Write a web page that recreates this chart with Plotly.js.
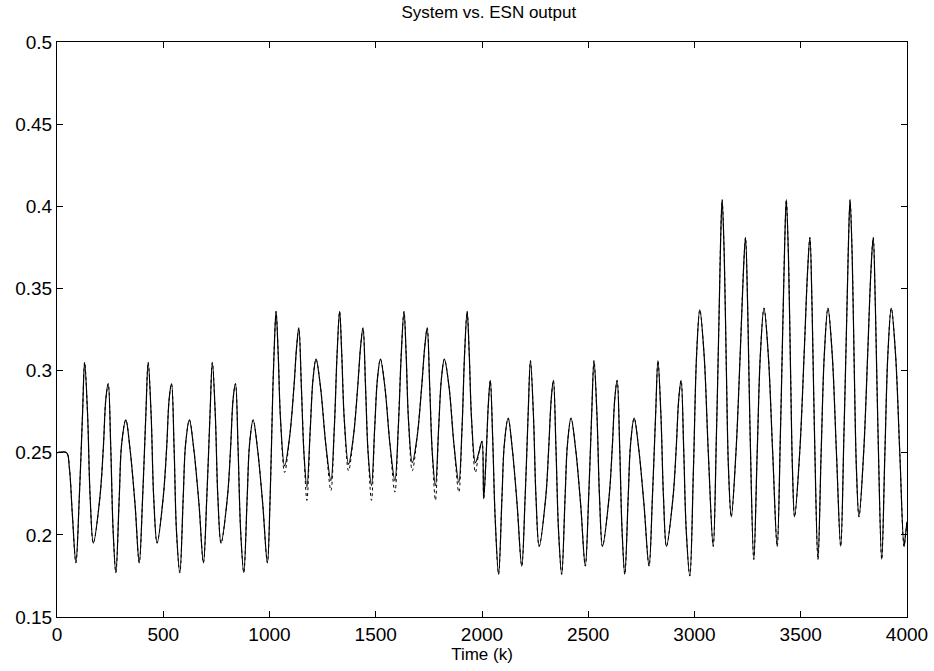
<!DOCTYPE html>
<html>
<head>
<meta charset="utf-8">
<script src="https://cdn.plot.ly/plotly-3.0.1.min.js"></script>
<style>
  html, body { margin: 0; padding: 0; background: #ffffff; }
  #chart { width: 934px; height: 671px; }
</style>
</head>
<body>
<div id="chart"></div>
<script>
// Time steps (k) of the key points
const timeK = [
  0, 45, 58, 72, 89, 105, 120, 130, 144, 156, 171, 202, 218, 230, 241, 253, 264, 277, 293, 304, 324, 343, 367, 387,
  403, 418, 429, 443, 455, 471, 500, 516, 528, 539, 551, 562, 578, 594, 605, 623, 643, 668, 689,
  705, 720, 731, 745, 757, 772, 802, 817, 829, 840, 852, 864, 879, 895, 906, 923, 943, 968, 990,
  1003, 1016, 1024, 1031, 1041, 1052, 1071, 1095, 1115, 1128, 1138, 1150, 1162, 1176, 1192, 1205, 1219, 1240, 1265, 1289,
  1305, 1318, 1330, 1340, 1352, 1372, 1395, 1415, 1429, 1440, 1452, 1464, 1480, 1495, 1508, 1522, 1543, 1567, 1590,
  1606, 1620, 1633, 1643, 1654, 1672, 1695, 1716, 1731, 1742, 1754, 1766, 1781, 1796, 1809, 1823, 1845, 1868, 1891,
  1906, 1918, 1930, 1940, 1951, 1969, 1985, 2000, 2008, 2020, 2030, 2039, 2050, 2062, 2078,
  2094, 2105, 2123, 2142, 2165, 2187, 2203, 2217, 2228, 2242, 2254, 2269, 2300, 2314, 2326, 2336, 2348, 2360, 2375,
  2391, 2402, 2419, 2440, 2464, 2486, 2502, 2516, 2527, 2541, 2553, 2567, 2598, 2613, 2625, 2636, 2648, 2659, 2672,
  2688, 2699, 2716, 2737, 2762, 2786, 2802, 2817, 2828, 2842, 2854, 2868, 2899, 2914, 2926, 2937, 2949, 2961, 2978,
  2995, 3010, 3025, 3045, 3065, 3088, 3103, 3115, 3123, 3130, 3140, 3150, 3160, 3173, 3195, 3215, 3230, 3240, 3250, 3262, 3279,
  3295, 3310, 3327, 3347, 3368, 3389, 3404, 3416, 3425, 3432, 3442, 3452, 3461, 3471, 3495, 3516, 3532, 3543, 3553, 3565, 3581,
  3596, 3611, 3628, 3648, 3668, 3688, 3703, 3716, 3725, 3732, 3742, 3752, 3762, 3774, 3796, 3815, 3830, 3841, 3851, 3864, 3881,
  3896, 3910, 3926, 3946, 3966, 3986, 3993, 4000
];

// System output (solid line)
const systemOut = [
  0.250, 0.250, 0.241, 0.213, 0.183, 0.223, 0.273, 0.305, 0.273, 0.223, 0.195, 0.223, 0.253, 0.283, 0.292, 0.253, 0.203, 0.177, 0.223, 0.255, 0.270, 0.253, 0.219, 0.183,
  0.223, 0.273, 0.305, 0.273, 0.223, 0.195, 0.223, 0.253, 0.283, 0.292, 0.253, 0.203, 0.177, 0.223, 0.255, 0.270, 0.253, 0.219, 0.183,
  0.223, 0.273, 0.305, 0.273, 0.223, 0.195, 0.223, 0.253, 0.283, 0.292, 0.253, 0.203, 0.177, 0.223, 0.255, 0.270, 0.253, 0.219, 0.183,
  0.223, 0.290, 0.320, 0.336, 0.310, 0.270, 0.242, 0.260, 0.290, 0.315, 0.326, 0.290, 0.250, 0.229, 0.265, 0.295, 0.307, 0.290, 0.255, 0.233,
  0.265, 0.310, 0.336, 0.310, 0.270, 0.243, 0.260, 0.290, 0.315, 0.326, 0.290, 0.250, 0.230, 0.265, 0.295, 0.307, 0.290, 0.255, 0.233,
  0.265, 0.310, 0.336, 0.310, 0.270, 0.244, 0.260, 0.290, 0.315, 0.326, 0.290, 0.250, 0.230, 0.265, 0.295, 0.307, 0.290, 0.255, 0.232,
  0.265, 0.310, 0.336, 0.310, 0.270, 0.244, 0.250, 0.257, 0.222, 0.250, 0.280, 0.294, 0.260, 0.210, 0.176,
  0.223, 0.255, 0.271, 0.253, 0.219, 0.181, 0.223, 0.273, 0.306, 0.273, 0.223, 0.193, 0.223, 0.253, 0.283, 0.294, 0.253, 0.203, 0.176,
  0.223, 0.255, 0.271, 0.253, 0.219, 0.181, 0.223, 0.273, 0.306, 0.273, 0.223, 0.193, 0.223, 0.253, 0.283, 0.294, 0.253, 0.203, 0.176,
  0.223, 0.255, 0.271, 0.253, 0.219, 0.181, 0.223, 0.273, 0.306, 0.273, 0.223, 0.193, 0.223, 0.253, 0.283, 0.294, 0.253, 0.203, 0.175,
  0.240, 0.310, 0.337, 0.310, 0.250, 0.193, 0.260, 0.330, 0.380, 0.404, 0.370, 0.300, 0.240, 0.211, 0.250, 0.310, 0.360, 0.381, 0.340, 0.260, 0.185,
  0.250, 0.310, 0.338, 0.310, 0.250, 0.193, 0.260, 0.330, 0.380, 0.404, 0.370, 0.300, 0.240, 0.211, 0.250, 0.310, 0.360, 0.381, 0.340, 0.260, 0.185,
  0.250, 0.310, 0.338, 0.310, 0.250, 0.193, 0.260, 0.330, 0.380, 0.404, 0.370, 0.300, 0.240, 0.211, 0.250, 0.310, 0.360, 0.381, 0.340, 0.260, 0.185,
  0.250, 0.310, 0.338, 0.310, 0.250, 0.193, 0.200, 0.208
];

// ESN output (dashed line): same as the system except at these troughs, where it dips lower
const esnTroughK = [1071, 1176, 1289, 1372, 1480, 1590, 1672, 1781, 1891, 1969];
const esnTroughVal = [0.238, 0.221, 0.227, 0.239, 0.221, 0.226, 0.239, 0.221, 0.226, 0.238];

const esnOut = systemOut.map(function (v, i) {
  const j = esnTroughK.indexOf(timeK[i]);
  return j >= 0 ? esnTroughVal[j] : v;
});

const xTicks = [0, 500, 1000, 1500, 2000, 2500, 3000, 3500, 4000];
const yTicks = [0.15, 0.2, 0.25, 0.3, 0.35, 0.4, 0.45, 0.5];

const traces = [
  {
    x: timeK, y: esnOut, name: 'ESN output', type: 'scatter', mode: 'lines',
    line: { color: '#000000', width: 1, dash: 'dot', shape: 'spline', smoothing: 1 }
  },
  {
    x: timeK, y: systemOut, name: 'System', type: 'scatter', mode: 'lines',
    line: { color: '#000000', width: 1.2, shape: 'spline', smoothing: 1 }
  }
];

const axisFont = { family: 'Liberation Sans, Arial, sans-serif', size: 19, color: '#000000' };

const layout = {
  width: 934, height: 671,
  paper_bgcolor: '#ffffff', plot_bgcolor: '#ffffff',
  showlegend: false,
  margin: { l: 57, r: 27, t: 42, b: 54, pad: 0 },
  title: {
    text: 'System vs. ESN output',
    font: { family: 'Liberation Sans Narrow, Liberation Sans, Arial, sans-serif', size: 17, color: '#000000' },
    x: 0.508, xanchor: 'center', xref: 'paper',
    y: 0.982, yanchor: 'middle', yref: 'container'
  },
  xaxis: {
    range: [0, 4000], tickvals: xTicks, ticktext: xTicks.map(String),
    ticks: 'inside', ticklen: 6, tickcolor: '#000000', tickwidth: 1,
    showline: true, linecolor: '#000000', linewidth: 1, mirror: 'ticks',
    showgrid: false, zeroline: false, tickfont: axisFont,
    title: { text: 'Time (k)', font: { family: 'Liberation Sans Narrow, Liberation Sans, Arial, sans-serif', size: 17, color: '#000000' }, standoff: 2 }
  },
  yaxis: {
    range: [0.15, 0.5], tickvals: yTicks, ticktext: yTicks.map(String),
    ticks: 'inside', ticklen: 6, tickcolor: '#000000', tickwidth: 1,
    showline: true, linecolor: '#000000', linewidth: 1, mirror: 'ticks',
    showgrid: false, zeroline: false, tickfont: axisFont
  }
};

Plotly.newPlot('chart', traces, layout, { staticPlot: true, displayModeBar: false });
</script>
</body>
</html>
